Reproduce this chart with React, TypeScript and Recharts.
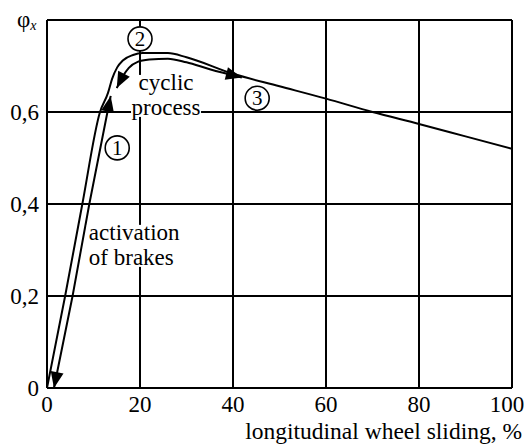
import React from 'react';
import { LineChart, Line, XAxis, YAxis, CartesianGrid, ReferenceDot } from 'recharts';

const FONT = "'Liberation Serif', 'Times New Roman', Tinos, 'DejaVu Serif', serif";
const PHI = '\u03C6';

// axis ticks
const xTicks = [0, 20, 40, 60, 80, 100];
const yTicks = [0, 0.2, 0.4, 0.6, 0.8];
const yTickLabels: Record<string, string> = { '0': '0', '0.2': '0,2', '0.4': '0,4', '0.6': '0,6', '0.8': '' };

// main adhesion curve phi_x(s)
const frictionCurve = [
  { x: 0, y: 0 }, { x: 3.9, y: 0.2 }, { x: 7.6, y: 0.4 }, { x: 11.4, y: 0.6 },
  { x: 13.1, y: 0.641 }, { x: 14.0, y: 0.672 }, { x: 15.1, y: 0.697 }, { x: 16.3, y: 0.712 },
  { x: 18.5, y: 0.724 }, { x: 20.6, y: 0.728 }, { x: 26, y: 0.728 }, { x: 30, y: 0.719 },
  { x: 40, y: 0.683 }, { x: 50, y: 0.656 }, { x: 60, y: 0.629 }, { x: 70, y: 0.6 },
  { x: 80, y: 0.574 }, { x: 90, y: 0.547 }, { x: 100, y: 0.52 },
];

// activation of brakes path (arrow both ends)
const activationPath = [
  { x: 1.5, y: 0, arrow: 'start' }, { x: 5.5, y: 0.2 }, { x: 9.1, y: 0.4 },
  { x: 13.0, y: 0.6 }, { x: 13.7, y: 0.635, arrow: 'end' },
];

// cyclic process path (arrow both ends)
const cyclicPath = [
  { x: 15.0, y: 0.652, arrow: 'start' }, { x: 16.2, y: 0.676 }, { x: 17.6, y: 0.696 },
  { x: 19.5, y: 0.709 }, { x: 22, y: 0.714 }, { x: 26, y: 0.716 }, { x: 30, y: 0.708 },
  { x: 35, y: 0.693 }, { x: 41.9, y: 0.675, arrow: 'end' },
];

// numbered circle markers
const circleMarks = [
  { x: 15.1, y: 0.522, label: '1' },
  { x: 20, y: 0.759, label: '2' },
  { x: 45.2, y: 0.63, label: '3' },
];

// text annotations
const textNotes = [
  { x: 25.6, y: 0.648, lines: ['cyclic', 'process'], anchor: 'middle' },
  { x: 9.0, y: 0.322, lines: ['activation', 'of brakes'], anchor: 'start' },
];

function arrowDot(props: any) {
  const { cx, cy, index, payload, points } = props;
  const key = `d-${index}`;
  if (!payload || !payload.arrow || !points) return <g key={key} />;
  const nb = payload.arrow === 'start' ? points[index + 1] : points[index - 1];
  if (!nb) return <g key={key} />;
  const dx = cx - nb.x;
  const dy = cy - nb.y;
  const len = Math.hypot(dx, dy) || 1;
  const ux = dx / len;
  const uy = dy / len;
  const L = 16;
  const W = 6.5;
  const bx = cx - ux * L;
  const by = cy - uy * L;
  const pts = `${cx},${cy} ${bx - uy * W},${by + ux * W} ${bx + uy * W},${by - ux * W}`;
  return <polygon key={key} points={pts} fill="#000" stroke="none" />;
}

function CircleShape(props: any) {
  const { cx, cy, label } = props;
  return (
    <g>
      <circle cx={cx} cy={cy} r={12} fill="#fff" stroke="#000" strokeWidth={1.6} />
      <text x={cx} y={cy + 7} textAnchor="middle" fontSize={21} style={{ fontFamily: FONT }} fill="#000">
        {label}
      </text>
    </g>
  );
}

function NoteShape(props: any) {
  const { cx, cy, lines, anchor } = props;
  const w = anchor === 'middle' ? 70 : 98;
  const rx = anchor === 'middle' ? cx - 35 : cx - 2;
  return (
    <g>
      <rect x={rx} y={cy - 15} width={w} height={42} fill="#fff" />
      {lines.map((t: string, i: number) => (
        <text key={t} x={cx} y={cy + i * 25} textAnchor={anchor} fontSize={23} style={{ fontFamily: FONT }} fill="#000">
          {t}
        </text>
      ))}
    </g>
  );
}

function XTick(props: any) {
  const { x, y, payload } = props;
  const shift = payload.value === 100 ? -5 : 0;
  return (
    <text x={x + shift} y={y} dy="0.71em" textAnchor="middle" fontSize={23} style={{ fontFamily: FONT }} fill="#000">
      {String(payload.value)}
    </text>
  );
}

function YTick(props: any) {
  const { x, y, payload } = props;
  return (
    <text x={x} y={y} dy="0.355em" textAnchor="end" fontSize={23} style={{ fontFamily: FONT }} fill="#000">
      {yTickLabels[String(payload.value)]}
    </text>
  );
}

export default function App() {
  return (
    <div style={{ position: 'absolute', left: 0, top: 0, background: '#fff', fontFamily: FONT }}>
      <LineChart width={524} height={445} margin={{ top: 20, right: 12, bottom: 0, left: 0 }}>
        <CartesianGrid stroke="#000" strokeWidth={2} horizontal vertical />
        <XAxis
          type="number"
          dataKey="x"
          domain={[0, 100]}
          ticks={xTicks}
          height={57}
          tickLine={false}
          axisLine={{ stroke: '#000', strokeWidth: 2 }}
          tick={(p: any) => <XTick {...p} />}
          allowDataOverflow
          label={{
            content: (p: any) => {
              const vb = p.viewBox || { x: 47, y: 388 };
              return (
                <text x={vb.x + 475} y={vb.y + 51} textAnchor="end" fontSize={23.5} style={{ fontFamily: FONT }} fill="#000">
                  longitudinal wheel sliding, %
                </text>
              );
            },
          }}
        />
        <YAxis
          type="number"
          domain={[0, 0.8]}
          ticks={yTicks}
          width={47}
          tickLine={false}
          axisLine={{ stroke: '#000', strokeWidth: 2 }}
          tick={(p: any) => <YTick {...p} />}
          allowDataOverflow
          label={{
            content: (p: any) => {
              const vb = p.viewBox || { x: 0, y: 20 };
              return (
                <text x={vb.x + 17} y={vb.y + 7} fontSize={23} style={{ fontFamily: FONT }} fill="#000">
                  {PHI}
                  <tspan fontSize={14} fontStyle="italic" dy={3}>x</tspan>
                </text>
              );
            },
          }}
        />
        <Line
          data={frictionCurve}
          dataKey="y"
          type="monotone"
          stroke="#000"
          strokeWidth={2}
          dot={false}
          activeDot={false}
          isAnimationActive={false}
        />
        <Line
          data={activationPath}
          dataKey="y"
          type="linear"
          stroke="#000"
          strokeWidth={2}
          dot={arrowDot}
          activeDot={false}
          isAnimationActive={false}
        />
        <Line
          data={cyclicPath}
          dataKey="y"
          type="monotone"
          stroke="#000"
          strokeWidth={2}
          dot={arrowDot}
          activeDot={false}
          isAnimationActive={false}
        />
        {textNotes.map((n) => (
          <ReferenceDot
            key={n.lines[0]}
            x={n.x}
            y={n.y}
            r={0}
            shape={(p: any) => <NoteShape {...p} lines={n.lines} anchor={n.anchor} />}
          />
        ))}
        {circleMarks.map((c) => (
          <ReferenceDot
            key={c.label}
            x={c.x}
            y={c.y}
            r={12}
            shape={(p: any) => <CircleShape {...p} label={c.label} />}
          />
        ))}
      </LineChart>
    </div>
  );
}
